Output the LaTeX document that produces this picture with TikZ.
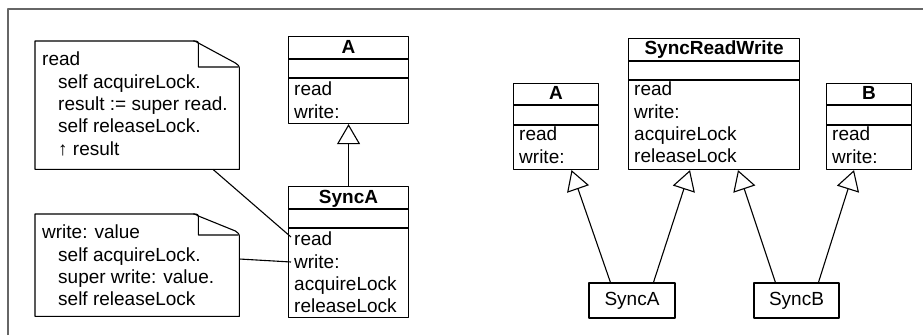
\documentclass[tikz,border=0pt]{standalone}
\usepackage{fontspec}
\setmainfont{Liberation Sans}
\usetikzlibrary{arrows.meta,calc}
\tikzset{
	cls/.style={draw, line width=1.1pt, anchor=north west, inner sep=0pt},
	clsname/.style={anchor=base, inner sep=0pt, font=\fontsize{19}{22.3}\selectfont\bfseries},
	ops/.style={anchor=north west, inner sep=0pt, align=left},
	notebox/.style={anchor=north west, inner sep=0pt, minimum width=204pt},
	notetext/.style={anchor=north west, inner sep=0pt, align=left},
	link/.style={line width=1.1pt},
	inh/.style={line width=1.1pt, -{Triangle[open, length=20pt, width=23pt]}}
}
\begin{document}
\begin{tikzpicture}[x=1pt, y=-1pt, font=\fontsize{19}{22.3}\selectfont, line join=round]
	\useasboundingbox (0,0) rectangle (923,335);
	\draw[black!60, line width=1.5pt] (8,335)--(8,9)--(923,9);
	% left: A and SyncA
	\node[cls, minimum width=120pt, minimum height=87pt] (A) at (288,36) {};
	\draw[link] ($(A.north west)+(0,23)$)--($(A.north east)+(0,23)$);
	\draw[link] ($(A.north west)+(0,42)$)--($(A.north east)+(0,42)$);
	\node[clsname] (Aname) at ($(A.north)+(0,17)$) {A};
	\node[ops] (Aops) at ($(A.north west)+(6,46)$) {read\\write:};
	\node[cls, minimum width=120pt, minimum height=131pt] (SyncA) at (288,186) {};
	\draw[link] ($(SyncA.north west)+(0,23)$)--($(SyncA.north east)+(0,23)$);
	\draw[link] ($(SyncA.north west)+(0,42)$)--($(SyncA.north east)+(0,42)$);
	\node[clsname] (SyncAname) at ($(SyncA.north)+(0,17)$) {SyncA};
	\node[ops] (SAops) at ($(SyncA.north west)+(6,46)$) {read\\write:\\acquireLock\\releaseLock};
	\draw[inh] (SyncA.north)--(A.south);
	% notes
	\node[notebox, minimum height=128pt] (readnote) at (35,41) {};
	\begin{scope}[shift={(readnote.north east)}]
		\draw[link] (readnote.south west) |- (-48,0) .. controls (-44,0) .. (-41,2) -- (-4,22)
			.. controls (0,25) .. (0,30) -- (readnote.south east) -- cycle;
		\draw[link] (-46,0) .. controls (-41,0) .. (-41,6) -- (-41,26) -- (-1,26);
	\end{scope}
	\node[notetext] (readtext) at ($(readnote.north west)+(7,11)$) {read\\
		\hspace*{16pt}self acquireLock.\\
		\hspace*{16pt}result := super read.\\
		\hspace*{16pt}self releaseLock.\\
		\hspace*{16pt}↑ result};
	\node[notebox, minimum height=102pt] (writenote) at (35,214) {};
	\begin{scope}[shift={(writenote.north east)}]
		\draw[link] (writenote.south west) |- (-48,0) .. controls (-44,0) .. (-41,2) -- (-4,17)
			.. controls (0,20) .. (0,25) -- (writenote.south east) -- cycle;
		\draw[link] (-46,0) .. controls (-41,0) .. (-41,6) -- (-41,21) -- (-1,21);
	\end{scope}
	\node[notetext] (writetext) at ($(writenote.north west)+(7,11)$) {write: value\\
		\hspace*{16pt}self acquireLock.\\
		\hspace*{16pt}super write: value.\\
		\hspace*{16pt}self releaseLock};
	\draw[link] ($(readnote.south west)+(178,0)$)--($(SAops.north west)+(-3,5)$);
	\draw[link] ($(writenote.north east)+(0,45)$)--($(SAops.north west)+(-3,30)$);
	% right: A, SyncReadWrite, B
	\node[cls, minimum width=85pt, minimum height=86pt] (A2) at (513,83) {};
	\draw[link] ($(A2.north west)+(0,22)$)--($(A2.north east)+(0,22)$);
	\draw[link] ($(A2.north west)+(0,42)$)--($(A2.north east)+(0,42)$);
	\node[clsname] (A2name) at ($(A2.north)+(0,16)$) {A};
	\node[ops] (A2ops) at ($(A2.north west)+(6,44)$) {read\\write:};
	\node[cls, minimum width=171pt, minimum height=131pt] (SRW) at (628,38) {};
	\draw[link] ($(SRW.north west)+(0,23)$)--($(SRW.north east)+(0,23)$);
	\draw[link] ($(SRW.north west)+(0,42)$)--($(SRW.north east)+(0,42)$);
	\node[clsname] (SRWname) at ($(SRW.north)+(0,16)$) {SyncReadWrite};
	\node[ops] (SRWops) at ($(SRW.north west)+(6,44)$) {read\\write:\\acquireLock\\releaseLock};
	\node[cls, minimum width=85pt, minimum height=86pt] (B) at (826,83) {};
	\draw[link] ($(B.north west)+(0,22)$)--($(B.north east)+(0,22)$);
	\draw[link] ($(B.north west)+(0,42)$)--($(B.north east)+(0,42)$);
	\node[clsname] (Bname) at ($(B.north)+(0,16)$) {B};
	\node[ops] (Bops) at ($(B.north west)+(6,44)$) {read\\write:};
	\node[draw, link, minimum width=86pt, minimum height=35pt, inner sep=0pt] (SA2) at (632,300.5) {SyncA};
	\node[draw, link, minimum width=85pt, minimum height=35pt, inner sep=0pt] (SB) at (796.5,300.5) {SyncB};
	\draw[inh] ($(SA2.north west)+(22,0)$)--($(A2.south west)+(58.5,0)$);
	\draw[inh] ($(SA2.north west)+(65,0)$)--($(SRW.south west)+(62,0)$);
	\draw[inh] ($(SB.north west)+(22,0)$)--($(SRW.south west)+(110,0)$);
	\draw[inh] ($(SB.north west)+(65,0)$)--($(B.south west)+(28,0)$);
\end{tikzpicture}
\end{document}
